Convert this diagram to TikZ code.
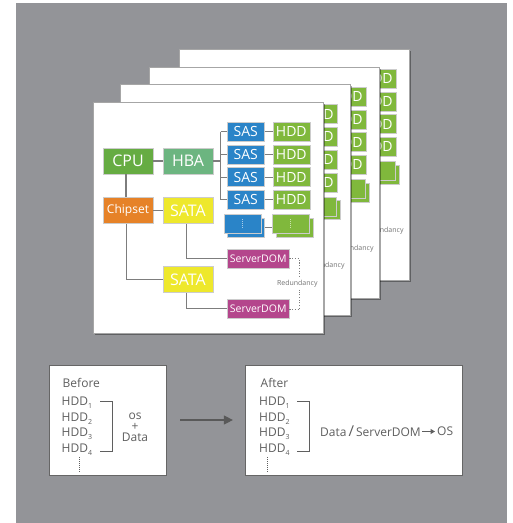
\documentclass[tikz,border=0pt]{standalone}
\usepackage{fontspec}
\setmainfont{Open Sans}
\usetikzlibrary{shadows,arrows.meta}
\definecolor{bg}{RGB}{147,148,152}
\definecolor{cpuc}{RGB}{102,172,66}
\definecolor{hbac}{RGB}{108,181,128}
\definecolor{chipc}{RGB}{230,130,40}
\definecolor{satac}{RGB}{238,232,44}
\definecolor{sasc}{RGB}{42,132,200}
\definecolor{hddc}{RGB}{128,184,60}
\definecolor{domc}{RGB}{180,70,140}
\definecolor{linec}{RGB}{125,125,125}
\definecolor{txtc}{RGB}{95,95,95}
\newcommand{\fs}[1]{\fontsize{#1}{#1}\selectfont}
\newcommand{\hdd}[1]{HDD\raisebox{-0.45ex}{\fs{7}#1}}
\tikzset{
  box/.style={draw=white!80!black, line width=0.5pt, text=white, inner sep=0pt},
  bigbox/.style={box, minimum width=50pt, minimum height=26pt, font=\fs{16}},
  smallbox/.style={box, minimum width=37pt, minimum height=19pt, font=\fs{14}},
  dombox/.style={box, fill=domc, minimum width=62pt, minimum height=19pt, font=\fs{10.5}},
  wire/.style={draw=linec, line width=1.1pt},
  reddots/.style={draw=linec, line width=1.1pt, dash pattern=on 1.1pt off 1.6pt},
  elldots/.style={draw=white, opacity=0.6, line width=0.9pt, dash pattern=on 1pt off 1pt},
  cardframe/.style={fill=white, draw=black!35, line width=0.5pt,
    drop shadow={shadow xshift=1.6pt, shadow yshift=-1.6pt, fill=black, opacity=0.35}},
  redlabel/.style={text=black!55, font=\fs{7}, inner sep=2.5pt},
  panel/.style={draw=black!60, fill=white, line width=0.8pt, inner sep=0pt},
  lbl/.style={text=txtc, inner sep=0pt, font=\fs{12}},
  brk/.style={draw=txtc, line width=1pt},
  vdots/.style={draw=txtc, line width=0.8pt, dash pattern=on 1pt off 1pt},
  % back cards: only the parts that stay visible beside the card in front
  cardback/.pic={
    \path[cardframe] (0,0) rectangle (230,231);
    \foreach \i/\y in {1/29.5,2/52.3,3/75.1,4/97.9}{
      \node[smallbox, fill=hddc] (hd\i) at (198.3,\y) {HDD};
    }
    \node[smallbox, fill=hddc] (egB) at (201.3,125.3) {};
    \node[smallbox, fill=hddc] (egA) at (197.8,121.8) {};
    \draw[elldots] ([yshift=5pt]egA.center) -- ([yshift=-5pt]egA.center);
    \node[redlabel] (red) at (204.3,181.3) {Redundancy};
  },
  cardfront/.pic={
    \path[cardframe] (0,0) rectangle (230,231);
    \node[bigbox, fill=cpuc] (cpu) at (35,59) {CPU};
    \node[bigbox, fill=hbac] (hba) at (95,59) {HBA};
    \node[bigbox, fill=chipc, font=\fs{12}] (chip) at (35,108.5) {Chipset};
    \node[bigbox, fill=satac] (sataA) at (95,108.5) {SATA};
    \node[bigbox, fill=satac] (sataB) at (95,177.7) {SATA};
    \coordinate (bus) at (127.7,59);
    \draw[wire] (cpu) -- (hba);
    \draw[wire] (hba.east) -- (bus);
    \foreach \i/\y in {1/29.5,2/52.3,3/75.1,4/97.9}{
      \node[smallbox, fill=sasc] (sas\i) at (152.8,\y) {SAS};
      \node[smallbox, fill=hddc] (hd\i) at (198.3,\y) {HDD};
      \draw[wire] (sas\i) -- (hd\i);
      \draw[wire] (sas\i.west -| bus) -- (sas\i.west);
    }
    \draw[wire] (sas1.west -| bus) -- (sas4.west -| bus);
    \node[smallbox, fill=sasc] (ebB) at (153,125.3) {};
    \node[smallbox, fill=sasc] (ebA) at (149.5,121.8) {};
    \draw[elldots] ([yshift=5pt]ebA.center) -- ([yshift=-5pt]ebA.center);
    \draw[wire] (ebB.east) -- (ebB.east -| 197.8-18.5,0);
    \node[smallbox, fill=hddc] (egB) at (201.3,125.3) {};
    \node[smallbox, fill=hddc] (egA) at (197.8,121.8) {};
    \draw[elldots] ([yshift=5pt]egA.center) -- ([yshift=-5pt]egA.center);
    \draw[wire] ([xshift=-2pt]cpu.south) -- ([xshift=-2pt]chip.north);
    \draw[wire] (chip) -- (sataA);
    \node[dombox] (domA) at (165.2,156.8) {ServerDOM};
    \node[dombox] (domB) at (165.2,206.3) {ServerDOM};
    \draw[wire] ([xshift=-1.3pt]chip.south) |- (sataB.west);
    \draw[wire] ([xshift=-1.3pt]sataA.south) |- (domA.west);
    \draw[wire] ([xshift=-1.3pt]sataB.south) |- (domB.west);
    \node[redlabel] (red) at (204.3,181.3) {Redundancy};
    \draw[reddots] (domA.east) -| ([xshift=2pt]red.north);
    \draw[reddots] ([yshift=-1.5pt]domB.east) -| ([xshift=2pt]red.south);
  }
}
\begin{document}
\begin{tikzpicture}[x=1pt,y=-1pt]
\useasboundingbox (0,0) rectangle (513,523);
\fill[white] (0,0) rectangle (513,523);
\fill[bg] (16,3) rectangle (507,523);
\pic (cD) at (179,49) {cardback};
\pic (cC) at (149,67) {cardback};
\pic (cB) at (120,84.5) {cardback};
\pic (cA) at (93,102) {cardfront};
% bottom panels
\node[panel, minimum width=117pt, minimum height=110pt] (bp) at (108.3,420) {};
\node[panel, minimum width=217pt, minimum height=110pt] (ap) at (354.3,420) {};
\draw[draw=black!65, line width=1.1pt, -{Triangle[length=9pt,width=9pt]}, shorten <=13pt, shorten >=12.5pt] (bp.east) -- (ap.west);
% before
\node[lbl, anchor=west] (bt) at (62.5,382.5) {Before};
\node[lbl, anchor=west] (b1) at (61.5,403) {\hdd{1}};
\node[lbl, anchor=west] (b2) at (61.5,418.5) {\hdd{2}};
\node[lbl, anchor=west] (b3) at (61.5,434) {\hdd{3}};
\node[lbl, anchor=west] (b4) at (61.5,449.5) {\hdd{4}};
\coordinate (bka) at (100,401);
\coordinate (bkb) at (100,451);
\draw[brk] (bka) -- ++(12,0) |- (bkb);
\node[lbl, align=center, font={\fontsize{12}{11}\selectfont}] (osd) at (135,427) {os\\+\\Data};
\coordinate (bda) at (79,457);
\draw[vdots] (bda) -- ++(0,15);
% after
\node[lbl, anchor=west] (at) at (260.5,382.5) {After};
\node[lbl, anchor=west] (a1) at (259,403) {\hdd{1}};
\node[lbl, anchor=west] (a2) at (259,418.5) {\hdd{2}};
\node[lbl, anchor=west] (a3) at (259,434) {\hdd{3}};
\node[lbl, anchor=west] (a4) at (259,449.5) {\hdd{4}};
\coordinate (aka) at (297,401);
\coordinate (akb) at (297,451);
\draw[brk] (aka) -- ++(12,0) |- (akb);
\coordinate (ada) at (267.3,457);
\draw[vdots] (ada) -- ++(0,15);
\node[lbl, anchor=west] (dd) at (320,431.5) {Data\hspace{2pt}{\fs{15}/}\hspace{2pt}ServerDOM};
\node[lbl, anchor=west] (os) at ([xshift=16pt]dd.east) {OS};
\draw[draw=txtc, line width=1pt, -{Triangle[length=4.5pt,width=5pt]}, shorten <=1pt, shorten >=2pt] (dd.east) -- (os.west);
\end{tikzpicture}
\end{document}
